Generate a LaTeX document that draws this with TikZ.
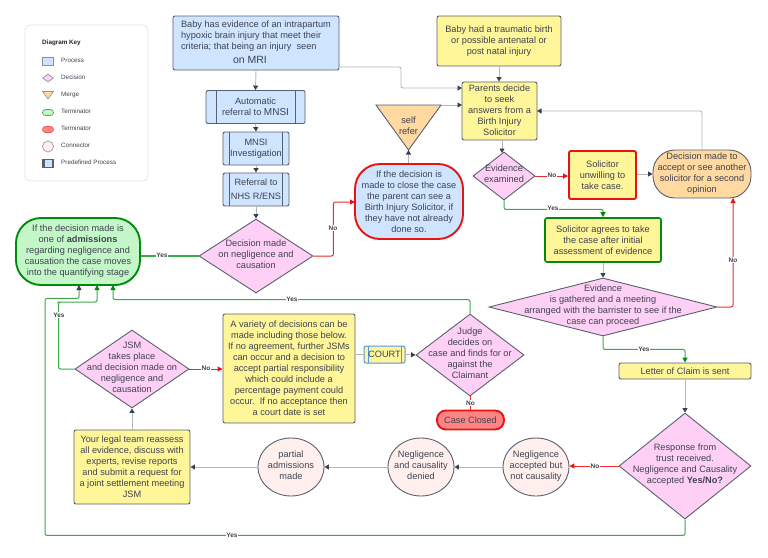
\documentclass[tikz,border=0pt]{standalone}
\usepackage{fontspec}
\setmainfont{Liberation Sans}
\usetikzlibrary{arrows.meta,shapes.geometric}
\definecolor{ink}{HTML}{3F4350}
\definecolor{edgeC}{HTML}{5A6070}
\definecolor{blueF}{HTML}{CFE4FF}
\definecolor{yellowF}{HTML}{FFF599}
\definecolor{pinkF}{HTML}{FFD0F5}
\definecolor{orangeF}{HTML}{FFD9A0}
\definecolor{greenF}{HTML}{C3F7C8}
\definecolor{peachF}{HTML}{FFF0EE}
\definecolor{redF}{HTML}{FF8585}
\definecolor{lineG}{HTML}{B4B6BC}
\definecolor{headG}{HTML}{3A4050}
\definecolor{lineGreen}{HTML}{3DAA4A}
\definecolor{headGreen}{HTML}{008A0E}
\definecolor{lineRed}{HTML}{EE2B2B}
\definecolor{strongGreen}{HTML}{008A0E}
\definecolor{strongRed}{HTML}{E81313}
\definecolor{courtB}{HTML}{4C9BEA}
\newcommand\dtxt[1]{\raisebox{-.3em}{\smash{\makebox[0pt]{\begin{tabular}[c]{@{}c@{}}#1\end{tabular}}}}}
\tikzset{
  x=1pt,y=-1pt,
  base/.style={draw=edgeC,line width=.9pt,text=ink,inner sep=0pt,align=center,
     font=\fontsize{9.2}{11}\selectfont},
  box/.style={base,rectangle,rounded corners=2pt},
  procY/.style={box,fill=yellowF},
  procB/.style={box,fill=blueF},
  predef/.style={procB,path picture={
     \draw[edgeC,line width=.9pt] ([xshift=#1]path picture bounding box.north west) -- ([xshift=#1]path picture bounding box.south west);
     \draw[edgeC,line width=.9pt] ([xshift=-#1]path picture bounding box.north east) -- ([xshift=-#1]path picture bounding box.south east);}},
  dec/.style={base,diamond,fill=pinkF},
  conn/.style={base,ellipse,fill=peachF},
  term/.style={base,rectangle,rounded corners=22pt},
  flowg/.style={draw=lineG,line width=.9pt,rounded corners=2pt,-{Triangle[length=4.5pt,width=5pt,color=headG]}},
  flowgreen/.style={draw=lineGreen,line width=1pt,rounded corners=2pt,-{Triangle[length=5pt,width=5pt,color=headGreen]}},
  flowred/.style={draw=lineRed,line width=1pt,rounded corners=2pt,-{Triangle[length=5pt,width=5pt,color=strongRed]}},
  lab/.style={fill=white,inner sep=.6pt,text=ink,font=\fontsize{6.5}{7}\selectfont\bfseries},
  keytext/.style={anchor=west,inner sep=0pt,text=ink,font=\fontsize{6.3}{7}\selectfont},
}
\begin{document}
\begin{tikzpicture}
\useasboundingbox[fill=white] (0,0) rectangle (768,557);

% key
\node[draw=black!10,fill=white,rounded corners=5pt,line width=.7pt,minimum width=123pt,minimum height=156pt,inner sep=0pt] (keyCard) at (86.5,103) {};
\node[keytext,font=\fontsize{6.3}{7}\selectfont\bfseries,text=black!85] (keyTitle) at (42,43) {Diagram Key};
\node[draw=edgeC!70,fill=blueF,line width=.7pt,minimum width=11pt,minimum height=8pt,inner sep=0pt] (k1) at (48,61) {};
\node[keytext] (k1t) at (61,60.5) {Process};
\node[draw=edgeC!70,fill=pinkF,diamond,line width=.6pt,minimum width=11pt,minimum height=8pt,inner sep=0pt,aspect=1.4] (k2) at (48,78) {};
\node[keytext] (k2t) at (61,77.5) {Decision};
\draw[draw=edgeC!70,fill=orangeF,line width=.6pt] (42.5,91.5) -- (53.5,91.5) -- (48,99) -- cycle;
\node[keytext] (k3t) at (61,94.5) {Merge};
\node[draw=strongGreen!70,fill=greenF,rounded corners=3pt,line width=.7pt,minimum width=11pt,minimum height=6pt,inner sep=0pt] (k4) at (48,112.5) {};
\node[keytext] (k4t) at (61,111.5) {Terminator};
\node[draw=strongRed!70,fill=redF,rounded corners=3pt,line width=.7pt,minimum width=11pt,minimum height=6pt,inner sep=0pt] (k5) at (48,129.5) {};
\node[keytext] (k5t) at (61,128.5) {Terminator};
\node[draw=edgeC!70,fill=peachF,circle,line width=.6pt,minimum size=11pt,inner sep=0pt] (k6) at (48,146.5) {};
\node[keytext] (k6t) at (61,145.5) {Connector};
\node[draw=edgeC,fill=blueF,line width=.7pt,minimum width=11pt,minimum height=8pt,inner sep=0pt,path picture={\fill[edgeC] (path picture bounding box.north west) rectangle ([xshift=2pt]path picture bounding box.south west);\fill[edgeC] (path picture bounding box.north east) rectangle ([xshift=-2pt]path picture bounding box.south east);}] (k7) at (48,163.5) {};
\node[keytext] (k7t) at (61,162.5) {Predefined Process};

% process column
\node[procB,minimum width=166pt,minimum height=54pt] (baby) at (256,43) {\raisebox{3pt}{\begin{tabular}[c]{@{}l@{}}Baby has evidence of an intrapartum\\hypoxic brain injury that meet their\\criteria; that being an injury\ \ seen\\[3pt]\hspace*{52pt}{\fontsize{10.5}{11}\selectfont on MRI}\end{tabular}}};
\node[predef=10pt,minimum width=99pt,minimum height=33pt] (auto) at (255.5,107) {Automatic\\referral to {\fontsize{10}{11}\selectfont MNSI}};
\node[predef=6.5pt,minimum width=66pt,minimum height=33pt] (mnsi) at (256,148.5) {MNSI\\Investigation};
\node[predef=6.5pt,minimum width=66pt,minimum height=33pt] (nhs) at (256,189.5) {Referral to\\[3pt]NHS R/ENS};
\node[dec,minimum width=114pt,minimum height=74pt] (negdec) at (256,256) {\dtxt{Decision made\\on negligence and\\causation}};
\node[term,rounded corners=25pt,fill=greenF,draw=strongGreen,line width=1.9pt,minimum width=124pt,minimum height=67pt] (admit) at (78,251.5) {If the decision made is\\one of \textbf{admissions}\\regarding negligence and\\causation the case moves\\into the quantifying stage};
\node[term,rounded corners=25pt,fill=blueF,draw=strongRed,line width=1.9pt,minimum width=108pt,minimum height=75pt] (close) at (409,201.5) {If the decision is\\made to close the case\\the parent can see a\\Birth Injury Solicitor, if\\they have not already\\done so.};

% merge
\draw[draw=edgeC,line width=.9pt,fill=orangeF] (376,105) -- (441,105) -- (408.5,150) -- cycle;
\coordinate (mergeApex) at (408.5,150);
\coordinate (mergeEast) at (441,105);
\node[inner sep=0pt,align=center,text=ink,font=\fontsize{9.2}{11}\selectfont] (selfrefer) at (408.5,126) {self\\refer};

% right top
\node[procY,minimum width=124pt,minimum height=50pt] (trauma) at (499,41) {Baby had a traumatic birth\\or possible antenatal or\\post natal injury};
\node[procY,minimum width=75pt,minimum height=58pt] (parents) at (499.5,111) {\raisebox{-2pt}{\dtxt{Parents decide\\to seek\\answers from a\\Birth Injury\\Solicitor}}};
\node[dec,minimum width=62pt,minimum height=48pt] (evid) at (504,176) {\dtxt{Evidence\\examined}};
\node[procY,draw=strongRed,line width=1.9pt,minimum width=67pt,minimum height=48pt] (unwill) at (602.5,175) {Solicitor\\unwilling to\\take case.};
\node[term,fill=orangeF,minimum width=98pt,minimum height=48pt] (second) at (702,174) {Decision made to\\accept or see another\\solicitor for a second\\opinion};
\node[procY,draw=strongGreen,line width=1.6pt,minimum width=116pt,minimum height=44pt] (agree) at (603,240) {Solicitor agrees to take\\the case after initial\\assessment of evidence};
\node[dec,minimum width=228pt,minimum height=58pt] (gather) at (603,307) {\dtxt{Evidence\\is gathered and a meeting\\arranged with the barrister to see if the\\case can proceed}};
\node[procY,minimum width=132pt,minimum height=16pt] (letter) at (685,371) {Letter of Claim is sent};
\node[dec,minimum width=132pt,minimum height=106pt] (resp) at (685,466) {\dtxt{Response from\\trust received.\\Negligence and Causality\\accepted \textbf{Yes/No?}}};

% bottom row
\node[conn,minimum width=66pt,minimum height=58pt] (accepted) at (536,467) {\dtxt{Negligence\\accepted but\\not causality}};
\node[conn,minimum width=66pt,minimum height=58pt] (denied) at (421,467) {\dtxt{Negligence\\and causality\\denied}};
\node[conn,minimum width=66pt,minimum height=58pt] (partial) at (291,467) {\dtxt{partial\\admissions\\made}};
\node[procY,minimum width=116pt,minimum height=74pt] (legal) at (132,467) {Your legal team reassess\\all evidence, discuss with\\experts, revise reports\\and submit a request for\\a joint settlement meeting\\JSM};
\node[dec,minimum width=114pt,minimum height=78pt] (jsm) at (132,369) {\dtxt{JSM\\takes place\\and decision made on\\negligence and\\causation}};
\node[procY,minimum width=132pt,minimum height=109pt] (variety) at (289,368.5) {A variety of decisions can be\\made including those below.\\If no agreement, further JSMs\\can occur and a decision to\\accept partial responsibility\\which could include a\\percentage payment could\\occur.\ \ If no acceptance then\\a court date is set};
\node[procY,draw=courtB,line width=1pt,minimum width=41pt,minimum height=17pt,path picture={
   \draw[courtB,line width=.9pt] ([xshift=4pt]path picture bounding box.north west) -- ([xshift=4pt]path picture bounding box.south west);
   \draw[courtB,line width=.9pt] ([xshift=-4pt]path picture bounding box.north east) -- ([xshift=-4pt]path picture bounding box.south east);}] (court) at (384.5,354.5) {COURT};
\node[dec,minimum width=108pt,minimum height=82pt] (judge) at (470,355) {\dtxt{Judge\\decides on\\case and finds for or\\against the\\Claimant}};
\node[base,rectangle,rounded corners=9pt,fill=redF,draw=strongRed,line width=1.9pt,minimum width=67pt,minimum height=19pt] (closed) at (470.5,420) {Case Closed};

% connectors
\draw[flowg] (baby.south) -- (auto.north);
\draw[flowg] (auto.south) -- (mnsi.north);
\draw[flowg] (mnsi.south) -- (nhs.north);
\draw[flowg] (nhs.south) -- (negdec.north);
\coordinate (babyOut) at (339,67);
\coordinate (parIn1) at (462,88);
\coordinate (parIn2) at (462,105);
\coordinate (parIn3) at (537,111);
\draw[flowg] (babyOut) -- ++(62,0) |- (parIn1);
\draw[flowg] (mergeEast) -- (parIn2);
\draw[flowg] (trauma.south) -- (parents.north -| trauma.south);
\coordinate (parOut) at (502,140);
\coordinate (evidIn) at (502,153);
\draw[flowg] (parOut) -- (evidIn);
\draw[flowred] (evid.east) -- (unwill.west |- evid.east);
\draw[flowg] (unwill.east |- second.west) -- (second.west);
\draw[flowg] (second.north) |- (parIn3);
\draw[flowgreen] (evid.south) -- ++(0,9) -| (agree.north);
\draw[flowg] (agree.south) -- (gather.north);
\coordinate (secondIn) at (733,198);
\draw[flowred] (gather.east) -| (secondIn);
\draw[flowgreen] (gather.south) -- ++(0,13) -| (letter.north);
\draw[flowg] (letter.south) -- (resp.north);
\draw[flowred] (resp.west) -- (accepted.east |- resp.west);
\draw[flowg] (accepted.west) -- (denied.east);
\draw[flowg] (denied.west) -- (partial.east);
\draw[flowg] (partial.west) -- (legal.east |- partial.west);
\draw[flowg] (legal.north) -- (jsm.south);
\draw[flowred] (jsm.east) -- (variety.west |- jsm.east);
\draw[flowg,-] (variety.east |- court.west) -- (court.west);
\draw[flowg] (court.east) -- (judge.west);
\draw[draw=lineRed,line width=1pt] (judge.south) -- (closed.north -| judge.south);
\draw[draw=lineGreen,line width=1.4pt] (negdec.west) -- (admit.east |- negdec.west);
\coordinate (closeIn) at (355,202);
\draw[flowred] (negdec.east) -- ++(20,0) |- (closeIn);
\draw[flowg] (close.north -| mergeApex) -- (mergeApex);
\coordinate (admitA) at (79,285);
\coordinate (admitB) at (97,285);
\coordinate (admitC) at (113,285);
\draw[flowgreen] (jsm.west) -- ++(-16,0) |- (59,302) -- ++(38,0) -- (admitB);
\draw[flowgreen] (judge.north) -- ++(0,-14) -- ++(-357,0) -- (admitC);
\draw[flowgreen,-{Triangle[length=5pt,width=5pt,color=headG]}] (resp.south) -- ++(0,16) -- ++(-640,0) -- ++(0,-237) -- ++(34,0) -- (admitA);

% connector labels
\node[lab] (l1) at (162,255) {Yes};
\node[lab] (l2) at (333,228) {No};
\node[lab] (l3) at (552,175) {No};
\node[lab] (l4) at (553,208) {Yes};
\node[lab] (l5) at (733,260) {No};
\node[lab] (l6) at (644,349) {Yes};
\node[lab] (l7) at (595,466) {No};
\node[lab] (l8) at (206,368) {No};
\node[lab] (l9) at (59,315) {Yes};
\node[lab] (l10) at (292,299) {Yes};
\node[lab] (l11) at (470.5,403) {No};
\node[lab] (l12) at (232,535) {Yes};
\end{tikzpicture}
\end{document}
